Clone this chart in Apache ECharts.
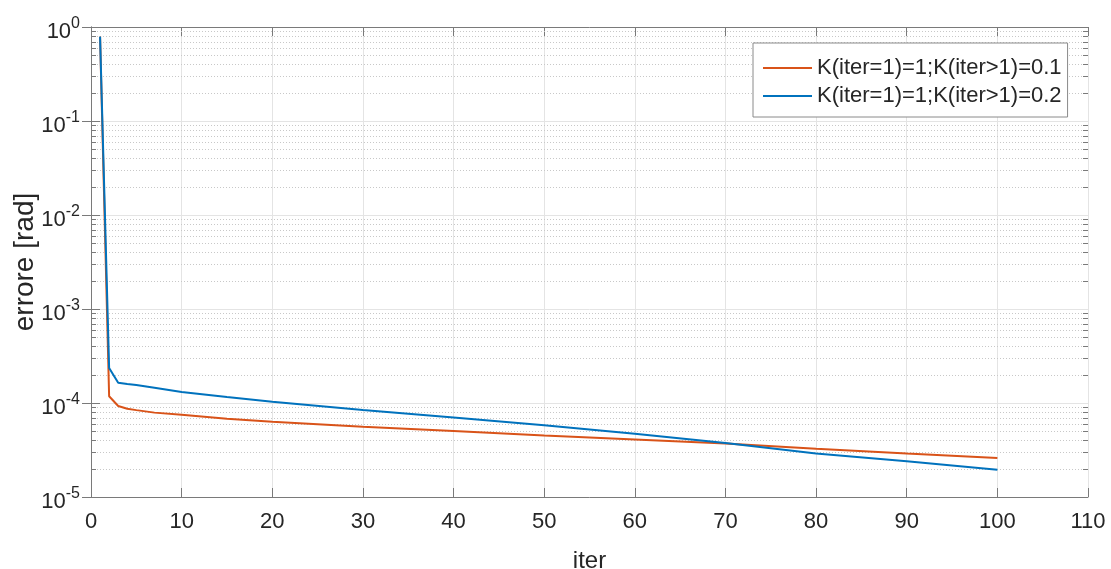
<!DOCTYPE html>
<html>
<head>
<meta charset="utf-8">
<script src="https://cdn.jsdelivr.net/npm/echarts@6/dist/echarts.min.js"></script>
<style>html,body{margin:0;padding:0;background:#fff;}#c{width:1111px;height:569px;}</style>
</head>
<body>
<div id="c"></div>
<script>
// ---- data ----
const iterX = [1, 2, 3, 4, 5, 7, 10, 15, 20, 30, 40, 50, 60, 70, 80, 90, 100];
const errK01 = [0.79, 1.18e-4, 9.3e-5, 8.7e-5, 8.4e-5, 7.9e-5, 7.5e-5, 6.8e-5, 6.3e-5, 5.6e-5, 5.05e-5, 4.5e-5, 4.1e-5, 3.7e-5, 3.26e-5, 2.9e-5, 2.6e-5];
const errK02 = [0.79, 2.36e-4, 1.64e-4, 1.59e-4, 1.55e-4, 1.45e-4, 1.31e-4, 1.16e-4, 1.03e-4, 8.4e-5, 7.0e-5, 5.8e-5, 4.7e-5, 3.75e-5, 2.9e-5, 2.4e-5, 1.95e-5];
const seriesNames = ['K(iter=1)=1;K(iter>1)=0.1', 'K(iter=1)=1;K(iter>1)=0.2'];
const yDecades = [-5, -4, -3, -2, -1, 0];           // tick labels 10^n
const minorFactors = [2, 3, 4, 5, 6, 7, 8, 9];
const xTicks = [0, 10, 20, 30, 40, 50, 60, 70, 80, 90, 100, 110];

const minorVals = [];
yDecades.slice(0, -1).forEach(d => minorFactors.forEach(f => minorVals.push([0, f * Math.pow(10, d)])));

const fontTick = '"Liberation Sans", Arial, sans-serif';
const fontMain = '"Liberation Sans", Arial, sans-serif';
const axisCol = '#7a7a7a';
const txtCol = '#262626';

const chart = echarts.init(document.getElementById('c'), null, {renderer: 'canvas'});
chart.setOption({
  animation: false,
  backgroundColor: '#fff',
  grid: {left: 91, right: 23, top: 27, bottom: 72, containLabel: false, outerBoundsMode: 'none'},
  legend: {
    left: 753, top: 43, orient: 'vertical',
    padding: [14, 6, 10, 10], itemGap: 6,
    itemWidth: 49, itemHeight: 2, icon: 'rect',
    backgroundColor: '#fff', borderColor: '#8a8a8a', borderWidth: 1,
    textStyle: {fontFamily: fontMain, fontSize: 22, color: txtCol},
    data: seriesNames
  },
  xAxis: [{
    type: 'value', min: 0, max: 110, interval: 10,
    name: 'iter', nameLocation: 'middle', nameGap: 52,
    nameTextStyle: {fontFamily: fontTick, fontSize: 24, color: txtCol},
    axisLine: {show: true, lineStyle: {color: axisCol, width: 1}},
    axisTick: {show: true, inside: true, length: 9, lineStyle: {color: axisCol}},
    axisLabel: {fontFamily: fontTick, fontSize: 22, color: txtCol, margin: 14},
    splitLine: {show: true, lineStyle: {color: '#e4e4e4', width: 1}}
  }, {
    type: 'value', min: 0, max: 110, interval: 10, position: 'top',
    axisLine: {show: true, lineStyle: {color: axisCol, width: 1}},
    axisTick: {show: true, inside: true, length: 9, lineStyle: {color: axisCol}},
    axisLabel: {show: false}, splitLine: {show: false}
  }],
  yAxis: [{
    type: 'log', logBase: 10, min: 1e-5, max: 1,
    name: 'errore [rad]', nameLocation: 'middle', nameGap: 52, nameMoveOverlap: false,
    nameTextStyle: {fontFamily: fontMain, fontSize: 28, color: txtCol},
    axisLine: {show: true, lineStyle: {color: axisCol, width: 1}},
    axisTick: {show: true, inside: true, length: 9, lineStyle: {color: axisCol}},
    axisLabel: {
      margin: 11, color: txtCol,
      formatter: v => '{b|10}{s|' + Math.round(Math.log10(v)) + '}',
      rich: {
        b: {fontFamily: fontTick, fontSize: 22, lineHeight: 22, color: txtCol, padding: [10, 0, 0, 0]},
        s: {fontFamily: fontTick, fontSize: 16, lineHeight: 16, color: txtCol, verticalAlign: 'top'}
      }
    },
    splitLine: {show: true, lineStyle: {color: '#e4e4e4', width: 1}}
  }, {
    type: 'log', logBase: 10, min: 1e-5, max: 1, position: 'right',
    axisLine: {show: true, lineStyle: {color: axisCol, width: 1}},
    axisTick: {show: true, inside: true, length: 9, lineStyle: {color: axisCol}},
    axisLabel: {show: false}, splitLine: {show: false}
  }],
  series: [{
    type: 'custom', silent: true, z: 1, xAxisIndex: 0, yAxisIndex: 0,
    data: minorVals, encode: {x: 0, y: 1},
    renderItem: (params, api) => {
      const p = api.coord([0, api.value(1)]);
      const cs = params.coordSys;
      const y = Math.round(p[1]) + 0.5;
      return {type: 'group', children: [
        {type: 'line', shape: {x1: cs.x, y1: y, x2: cs.x + cs.width, y2: y},
         style: {stroke: '#c8c8c8', lineWidth: 1, lineDash: [1, 2]}},
        {type: 'line', shape: {x1: cs.x, y1: y, x2: cs.x + 5, y2: y},
         style: {stroke: axisCol, lineWidth: 1}},
        {type: 'line', shape: {x1: cs.x + cs.width - 5, y1: y, x2: cs.x + cs.width, y2: y},
         style: {stroke: axisCol, lineWidth: 1}}
      ]};
    }
  }, {
    name: seriesNames[0], type: 'line', z: 3, showSymbol: false, symbol: 'none',
    color: '#D95319', lineStyle: {width: 2, color: '#D95319'},
    data: iterX.map((x, i) => [x, errK01[i]])
  }, {
    name: seriesNames[1], type: 'line', z: 4, showSymbol: false, symbol: 'none',
    color: '#0072BD', lineStyle: {width: 2, color: '#0072BD'},
    data: iterX.map((x, i) => [x, errK02[i]])
  }]
});
</script>
</body>
</html>
